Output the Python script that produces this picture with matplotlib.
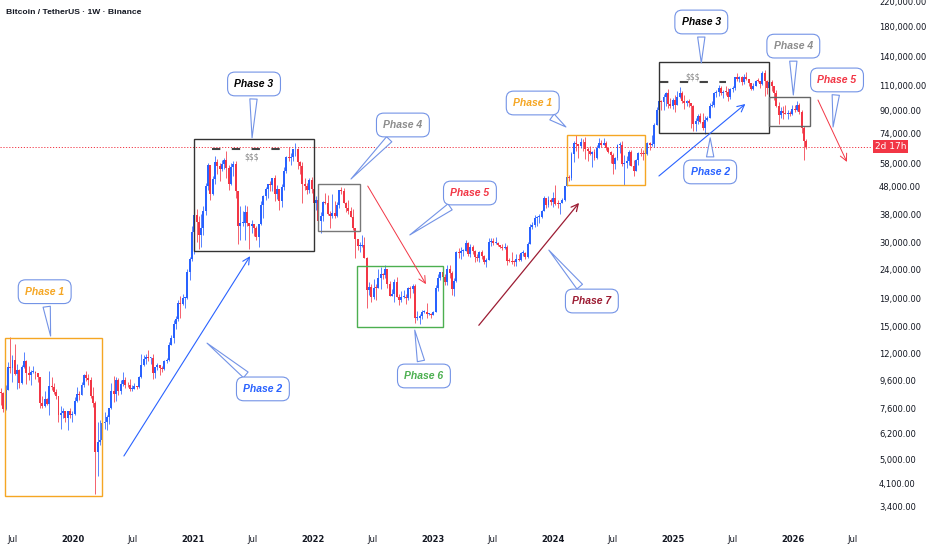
import matplotlib
matplotlib.use("Agg")
import matplotlib.pyplot as plt
import matplotlib.dates as mdates
from matplotlib.patches import Rectangle
import numpy as np
import pandas as pd

# Weekly BTCUSDT candles (thousand USD), weeks starting Monday 2019-05-27
first_open = 8.75

close_2019 = [8.72, 7.65, 8.95, 10.85, 10.75, 11.45, 10.2, 10.55, 9.5, 10.8, 11.35, 10.3, 10.15, 10.4, 10.4, 10.3,
              9.95, 8.05, 7.85, 8.3, 7.95, 9.25, 9.2, 8.8, 8.5, 7.3, 7.4, 7.5, 7.1, 7.5, 7.3, 7.35]
high_2019 = [9.1, 8.8, 9.3, 11.3, 13.9, 12.0, 13.1, 11.1, 10.65, 11.0, 12.3, 11.45, 10.95, 10.6, 10.9, 10.45,
             10.35, 10.0, 8.55, 8.85, 8.4, 10.5, 9.95, 9.5, 9.05, 8.5, 7.85, 7.75, 7.45, 7.55, 7.7, 7.5]
low_2019 = [7.9, 7.45, 7.6, 8.95, 10.3, 9.6, 10.1, 9.07, 9.1, 9.4, 10.75, 9.4, 9.75, 9.35, 10.3, 9.85,
            9.6, 7.7, 7.7, 7.8, 7.9, 7.3, 8.95, 8.7, 8.35, 6.85, 6.5, 7.1, 6.9, 6.45, 7.1, 6.85]

close_2020 = [8.18, 8.7, 8.6, 9.35, 10.15, 9.9, 9.7, 8.55, 8.05, 5.35, 5.85, 5.9, 6.8, 6.9, 7.15, 7.7, 8.9, 8.7,
              9.7, 8.9, 9.45, 9.75, 9.35, 9.3, 9.0, 9.05, 9.25, 9.2, 9.95, 11.05, 11.6, 11.8, 11.65, 11.7, 10.3,
              10.8, 11.05, 10.75, 10.65, 11.35, 11.5, 13.05, 13.75, 15.45, 16.05, 18.4, 18.2, 19.15, 19.25,
              23.85, 26.45, 33.0]
high_2020 = [8.45, 9.2, 8.9, 9.6, 10.2, 10.5, 10.25, 9.95, 9.2, 8.2, 6.9, 7.0, 7.2, 7.45, 7.3, 7.75, 9.5, 10.05,
             9.95, 9.9, 9.75, 10.4, 9.95, 9.6, 9.8, 9.3, 9.5, 9.25, 10.05, 12.1, 12.0, 12.1, 12.5, 11.8, 12.1,
             10.8, 11.2, 10.95, 10.95, 11.45, 11.7, 13.35, 14.1, 15.95, 16.5, 18.8, 19.5, 19.9, 19.4,
             24.3, 26.9, 34.8]
low_2020 = [7.3, 8.1, 8.25, 8.6, 9.15, 9.65, 9.3, 8.4, 7.8, 3.78, 4.4, 5.7, 5.85, 6.5, 6.45, 6.75, 7.65, 8.1,
            8.2, 8.6, 8.65, 9.25, 9.1, 9.2, 8.85, 8.9, 9.05, 9.0, 9.1, 9.9, 10.95, 11.1, 11.35, 11.1, 9.85,
            9.9, 10.6, 10.1, 10.4, 10.55, 11.2, 11.4, 12.95, 13.2, 14.8, 15.8, 16.2, 18.1, 17.6,
            19.0, 22.3, 26.0]

close_2021 = [38.2, 36.0, 32.3, 34.3, 39.3, 48.6, 57.4, 45.2, 51.2, 59.0, 57.3, 55.9, 58.2, 59.8, 56.2, 49.1,
              56.6, 58.2, 46.4, 34.8, 35.7, 35.8, 39.1, 35.6, 34.7, 35.3, 34.2, 31.8, 35.4, 41.5, 44.4, 47.1,
              49.3, 48.9, 51.8, 45.2, 47.3, 42.7, 48.2, 55.0, 61.5, 60.85, 61.3, 65.5, 65.5, 59.0, 57.2, 49.4,
              48.4, 46.7, 50.8, 47.3]
high_2021 = [41.95, 40.1, 37.9, 38.5, 40.9, 49.7, 58.35, 57.5, 52.6, 61.8, 60.6, 58.4, 60.2, 61.2, 64.85, 57.5,
             58.45, 59.6, 59.6, 45.8, 40.9, 39.5, 41.3, 41.0, 35.7, 36.6, 35.1, 34.7, 35.4, 42.6, 44.8, 48.1,
             49.4, 50.5, 51.9, 52.9, 48.8, 47.4, 49.2, 56.6, 62.0, 67.0, 63.7, 66.0, 69.0, 66.3, 59.3, 59.2,
             51.9, 49.5, 51.9, 52.0]
low_2021 = [27.7, 30.4, 28.8, 29.2, 32.3, 38.0, 47.0, 43.0, 44.95, 49.3, 53.3, 50.3, 54.9, 55.5, 51.6, 47.0,
            48.75, 52.4, 43.8, 30.0, 31.1, 34.8, 31.0, 34.8, 28.8, 32.7, 32.1, 31.1, 29.3, 35.2, 37.3, 43.0,
            43.9, 46.4, 46.5, 42.8, 43.4, 39.6, 40.8, 46.9, 53.8, 59.5, 57.8, 59.4, 62.3, 55.6, 53.5, 42.0,
            46.9, 45.5, 45.6, 45.7]

close_2022 = [41.9, 43.1, 36.3, 37.9, 42.4, 42.2, 38.4, 37.7, 38.8, 37.8, 41.3, 46.8, 46.4, 42.2, 40.4, 39.5,
              37.6, 34.3, 31.3, 29.4, 29.4, 29.8, 26.6, 20.55, 21.0, 19.3, 20.85, 20.8, 22.6, 23.3, 23.2, 24.3,
              21.5, 19.55, 19.8, 21.8, 19.4, 18.8, 19.3, 19.4, 19.2, 20.8, 20.6, 21.2, 16.3, 16.3, 16.5, 17.1,
              17.1, 16.8, 16.85, 16.6]
high_2022 = [47.5, 44.4, 43.5, 38.9, 42.6, 45.8, 44.8, 39.5, 45.4, 42.6, 42.3, 46.9, 48.2, 47.5, 42.4, 42.98,
             40.8, 40.0, 34.3, 31.3, 30.5, 32.2, 31.8, 26.9, 21.9, 21.5, 22.5, 21.6, 24.3, 24.7, 23.6, 25.2,
             24.4, 22.0, 20.6, 22.4, 22.8, 19.9, 20.4, 20.5, 19.9, 20.95, 21.1, 21.45, 21.5, 17.2, 16.8, 17.4,
             17.4, 18.4, 16.95, 16.9]
low_2022 = [40.6, 39.6, 34.0, 32.9, 36.2, 41.7, 38.0, 34.3, 37.2, 37.2, 37.6, 40.5, 45.2, 41.9, 39.2, 38.5,
            37.6, 33.7, 26.7, 28.6, 28.0, 29.3, 26.6, 17.6, 19.6, 18.6, 19.0, 18.9, 20.8, 20.7, 22.4, 22.7,
            20.8, 19.5, 19.5, 18.5, 19.3, 18.1, 18.5, 19.2, 18.2, 18.9, 19.2, 20.0, 15.6, 16.0, 15.5, 16.1,
            16.9, 16.3, 16.6, 16.3]

close_2023 = [17.1, 20.9, 22.7, 23.7, 22.9, 21.8, 24.3, 23.5, 20.6, 22.1, 28.0, 27.9, 28.2, 28.3, 30.3, 27.6,
              29.2, 28.4, 26.9, 26.75, 28.1, 27.1, 25.9, 26.3, 30.5, 30.6, 30.2, 30.2, 29.8, 29.3, 29.1, 29.3,
              26.1, 26.0, 25.9, 25.8, 26.5, 26.2, 27.9, 27.9, 27.0, 30.0, 34.5, 35.0, 37.1, 37.4, 37.5, 39.5,
              43.8, 41.4, 43.0, 42.3]
high_2023 = [17.2, 21.3, 23.4, 23.8, 24.25, 23.3, 25.25, 25.1, 23.9, 22.6, 28.4, 28.9, 29.2, 28.8, 31.0, 30.4,
             30.0, 29.8, 28.6, 27.6, 28.3, 28.45, 27.4, 26.8, 31.4, 31.4, 31.5, 31.8, 30.4, 29.5, 30.0, 30.2,
             29.7, 26.8, 28.1, 26.2, 27.5, 27.5, 28.0, 28.6, 28.0, 30.4, 35.3, 35.9, 38.0, 37.9, 38.4, 39.7,
             44.7, 43.4, 44.4, 43.8]
low_2023 = [16.6, 17.1, 20.4, 22.3, 22.5, 21.4, 21.35, 22.7, 19.6, 19.55, 21.9, 26.6, 26.5, 27.2, 28.2, 27.1,
            26.9, 27.7, 25.8, 26.1, 25.9, 26.5, 25.35, 24.8, 26.2, 29.5, 29.7, 29.9, 29.5, 28.9, 28.6, 28.8,
            25.2, 25.8, 25.3, 24.9, 24.9, 26.0, 26.0, 27.2, 26.5, 26.8, 29.9, 33.9, 34.5, 34.8, 35.6, 37.1,
            39.5, 40.2, 40.6, 41.3]

close_2024 = [43.9, 41.7, 41.6, 42.0, 43.0, 48.3, 52.1, 51.7, 63.1, 68.9, 68.4, 67.2, 69.6, 69.4, 65.7, 64.9,
              63.1, 64.0, 61.0, 66.3, 69.0, 67.8, 69.3, 66.2, 64.2, 62.7, 58.2, 60.8, 68.1, 68.2, 58.2, 58.7,
              59.5, 64.2, 57.3, 54.9, 60.0, 63.6, 63.3, 63.0, 63.0, 69.0, 67.9, 68.7, 80.4, 90.6, 97.9, 97.2,
              101.2, 104.5, 95.2, 93.7]
high_2024 = [45.9, 49.0, 43.2, 42.2, 43.9, 48.6, 52.8, 52.98, 64.0, 70.1, 73.8, 68.1, 71.8, 71.3, 72.8, 66.9,
             67.2, 64.7, 65.5, 67.7, 71.98, 70.6, 71.9, 70.2, 66.9, 64.5, 63.8, 61.4, 68.4, 69.4, 70.0, 62.7,
             61.8, 65.0, 64.95, 59.8, 60.6, 64.1, 66.5, 65.3, 64.5, 69.4, 69.5, 73.6, 81.5, 93.3, 99.6, 98.7,
             104.0, 105.1, 108.35, 99.9]
low_2024 = [40.7, 41.5, 40.3, 38.5, 41.9, 42.6, 48.3, 50.6, 50.9, 59.0, 64.5, 60.8, 66.4, 64.5, 60.7, 59.6,
            62.4, 56.5, 60.2, 60.7, 66.6, 66.6, 68.5, 65.0, 63.4, 58.4, 53.5, 55.7, 59.8, 63.5, 57.2, 49.0,
            56.1, 57.8, 57.2, 52.5, 54.6, 57.5, 62.3, 59.8, 58.9, 62.4, 65.1, 67.5, 66.8, 80.2, 89.3, 90.8,
            90.5, 94.2, 92.2, 92.6]

close_2025 = [98.4, 94.5, 101.3, 104.7, 97.7, 96.5, 97.5, 96.3, 94.2, 80.7, 82.6, 86.1, 82.4, 78.4, 83.7, 85.2,
              93.8, 94.3, 104.1, 105.7, 109.0, 104.6, 105.7, 105.6, 101.5, 108.4, 108.9, 119.1, 117.3, 119.5,
              114.2, 119.3, 117.4, 113.5, 108.2, 111.1, 115.3, 115.2, 112.2, 123.5, 115.3, 108.6, 114.5, 110.5,
              104.7, 94.2, 86.8, 90.4, 88.2, 88.1, 88.5, 87.8]
high_2025 = [99.9, 102.7, 106.4, 109.6, 106.5, 102.5, 98.8, 99.5, 96.5, 95.0, 85.3, 87.5, 88.8, 88.5, 86.1, 86.5,
             95.8, 97.9, 104.97, 107.1, 111.98, 110.7, 106.8, 110.5, 108.9, 108.5, 110.5, 119.5, 123.2, 120.2,
             119.8, 122.3, 124.5, 117.6, 113.5, 113.4, 116.8, 117.9, 115.2, 125.6, 126.2, 116.0, 116.0, 116.4,
             110.6, 107.0, 96.6, 93.1, 94.2, 94.6, 90.5, 90.0]
low_2025 = [91.3, 89.3, 94.7, 100.0, 96.4, 91.2, 94.1, 93.4, 78.3, 76.6, 76.6, 81.1, 81.6, 77.1, 74.5, 83.0,
            85.1, 92.8, 93.4, 101.0, 102.1, 103.1, 100.4, 102.7, 98.2, 99.6, 105.1, 107.5, 115.7, 114.7,
            112.0, 112.6, 116.8, 110.6, 107.3, 107.3, 110.6, 114.5, 108.6, 111.5, 102.0, 103.5, 106.6, 106.3,
            98.9, 93.0, 80.6, 85.3, 84.0, 87.5, 84.5, 86.5]

close_2026 = [91.5, 90.6, 95.0, 89.0, 78.5, 70.0, 67.0]
high_2026 = [94.8, 94.8, 97.9, 96.0, 90.5, 79.5, 71.5]
low_2026 = [87.2, 89.3, 90.0, 87.5, 75.0, 60.0, 65.5]

price_ticks = [220000, 180000, 140000, 110000, 90000, 74000, 58000, 48000, 38000, 30000,
               24000, 19000, 15000, 12000, 9600, 7600, 6200, 5000, 4100, 3400]
time_ticks = ["2019-07-01", "2020-01-01", "2020-07-01", "2021-01-01", "2021-07-01", "2022-01-01",
              "2022-07-01", "2023-01-01", "2023-07-01", "2024-01-01", "2024-07-01", "2025-01-01",
              "2025-07-01", "2026-01-01", "2026-07-01"]
time_labels = ["Jul", "2020", "Jul", "2021", "Jul", "2022", "Jul", "2023", "Jul", "2024", "Jul", "2025",
               "Jul", "2026", "Jul"]

BLUE = "#2962FF"
RED = "#F23645"
ORANGE = "#F5A623"
GREEN = "#4CAF50"
GRAY = "#8C8C8C"
DARK = "#333333"
MAROON = "#9C1C33"
CALLOUT_EDGE = "#7393E6"

# phase zones: start, end, low, high, edge colour
zones = [
    ("2019-06-07", "2020-03-30", 3730, 13800, ORANGE),
    ("2021-01-04", "2022-01-04", 28300, 71400, DARK),
    ("2022-01-16", "2022-05-23", 33400, 49200, "#777777"),
    ("2022-05-14", "2023-01-31", 15100, 25000, GREEN),
    ("2024-02-12", "2024-10-07", 48800, 73800, ORANGE),
    ("2024-11-18", "2025-10-19", 75000, 135000, DARK),
    ("2025-10-19", "2026-02-21", 79500, 101000, "#666666"),
]
# liquidity lines ($$$): start, end, level, label date, label price
liquidity = [
    ("2021-02-27", "2021-09-24", 65800, "2021-06-29", 61600),
    ("2024-11-20", "2025-06-10", 114400, "2025-03-02", 119500),
]
# trend arrows: start, end, colour, width
trend_arrows = [
    (("2020-06-04", 5190), ("2021-06-23", 27100), BLUE, 0.8),
    (("2022-06-16", 48400), ("2022-12-10", 21500), RED, 0.7),
    (("2023-05-20", 15300), ("2024-03-20", 42100), MAROON, 0.9),
    (("2024-11-18", 52600), ("2025-08-08", 95400), BLUE, 0.8),
    (("2026-03-17", 98600), ("2026-06-13", 59100), RED, 0.7),
]
# callouts: text, colour, label position, pointer tip
callouts = [
    ("Phase 1", ORANGE, ("2019-10-07", 20200), ("2019-10-25", 14000)),
    ("Phase 2", BLUE, ("2021-08-01", 9040), ("2021-02-12", 13200)),
    ("Phase 3", "black", ("2021-07-05", 112600), ("2021-06-29", 72100)),
    ("Phase 4", GRAY, ("2022-10-01", 80200), ("2022-04-26", 51300)),
    ("Phase 5", RED, ("2023-04-23", 45700), ("2022-10-22", 32300)),
    ("Phase 6", GREEN, ("2022-12-04", 10060), ("2022-11-06", 14700)),
    ("Phase 7", MAROON, ("2024-04-28", 18700), ("2023-12-19", 28500)),
    ("Phase 1", ORANGE, ("2023-10-31", 96200), ("2024-02-09", 78900)),
    ("Phase 3", "black", ("2025-03-27", 188000), ("2025-03-27", 134000)),
    ("Phase 2", BLUE, ("2025-04-23", 54400), ("2025-04-23", 72100)),
    ("Phase 4", GRAY, ("2026-01-01", 154000), ("2026-01-01", 102800)),
    ("Phase 5", RED, ("2026-05-14", 116400), ("2026-05-02", 78900)),
]


def d(s):
    return mdates.datestr2num(s)


closes = np.array(close_2019 + close_2020 + close_2021 + close_2022 + close_2023 + close_2024
                  + close_2025 + close_2026) * 1000
highs = np.array(high_2019 + high_2020 + high_2021 + high_2022 + high_2023 + high_2024
                 + high_2025 + high_2026) * 1000
lows = np.array(low_2019 + low_2020 + low_2021 + low_2022 + low_2023 + low_2024
                + low_2025 + low_2026) * 1000
opens = np.concatenate([[first_open * 1000], closes[:-1]])
highs = np.maximum(highs, np.maximum(opens, closes))
lows = np.minimum(lows, np.minimum(opens, closes))
weeks = pd.date_range("2019-05-27", periods=len(closes), freq="W-MON")
xs = mdates.date2num(weeks)

fig = plt.figure(figsize=(9.32, 5.5), dpi=100)
ax = fig.add_axes([0, 0, 1, 1])
ax.set_yscale("log")
ax.set_xlim(d("2019-05-24"), d("2027-02-27"))
ax.set_ylim(2385, 225500)
ax.axis("off")

# candles
up = closes >= opens
cols = np.where(up, BLUE, RED)
body_lo = np.minimum(opens, closes)
body_hi = np.maximum(np.maximum(opens, closes), body_lo * 1.008)
ax.vlines(xs, lows, highs, colors=cols, lw=0.55, zorder=3)
ax.bar(xs, body_hi - body_lo, bottom=body_lo, width=6.0, color=cols, lw=0, zorder=3)

# last price line and countdown tag
last = closes[-1]
ax.axhline(last, xmin=0, xmax=872 / 932, color=RED, lw=0.7, ls=(0, (1.2, 1.8)), zorder=1)
ax.text(0.9555, last, "2d 17h", transform=ax.get_yaxis_transform(), ha="center", va="center",
        color="white", fontsize=6.5,
        bbox=dict(boxstyle="square,pad=0.2", fc=RED, ec="none"), zorder=8)

# zones
for x0, x1, lo, hi, ec in zones:
    ax.add_patch(Rectangle((d(x0), lo), d(x1) - d(x0), hi - lo, fill=False, ec=ec, lw=1.0, zorder=4))

for x0, x1, lvl, lx, ly in liquidity:
    ax.hlines(lvl, d(x0), d(x1), colors="#444444", lw=1.5, linestyles=(0, (4, 5.5)), zorder=4)
    ax.text(d(lx), ly, "$$$", ha="center", va="center", fontsize=5.5, color="#888888", zorder=4)

for (sx, sy), (ex, ey), c, lw in trend_arrows:
    ax.annotate("", xy=(d(ex), ey), xytext=(d(sx), sy),
                arrowprops=dict(arrowstyle="->,head_length=0.5,head_width=0.25", color=c, lw=lw,
                                shrinkA=0, shrinkB=0), zorder=5)

for text, c, (tx, ty), (px, py) in callouts:
    ax.annotate(text, xy=(d(px), py), xytext=(d(tx), ty), ha="center", va="center",
                fontsize=7.5, fontweight="bold", fontstyle="italic", family="Liberation Sans", color=c,
                bbox=dict(boxstyle="round,pad=0.66,rounding_size=0.7", fc="white", ec=CALLOUT_EDGE, lw=0.8),
                arrowprops=dict(arrowstyle="wedge,tail_width=0.7,shrink_factor=0.5", fc="white",
                                ec=CALLOUT_EDGE, lw=0.8, shrinkB=0),
                zorder=6)

# price scale
for p in price_ticks:
    ax.text(879 / 932, p, f"{p:,.2f}", transform=ax.get_yaxis_transform(), ha="left", va="center",
            fontsize=6, color="#131722", zorder=7)

# time scale
for t, lab in zip(time_ticks, time_labels):
    ax.text(d(t), 10 / 550, lab, transform=ax.get_xaxis_transform(), ha="center", va="center",
            fontsize=6, color="#131722", fontweight="normal" if lab == "Jul" else "bold", zorder=7)

ax.text(6 / 932, 1 - 12 / 550, "Bitcoin / TetherUS · 1W · Binance", transform=ax.transAxes,
        ha="left", va="center", fontsize=6.1, fontweight="bold", family="Liberation Sans",
        color="#131722", zorder=7)

fig.savefig("out.png", dpi=100, facecolor="white")
